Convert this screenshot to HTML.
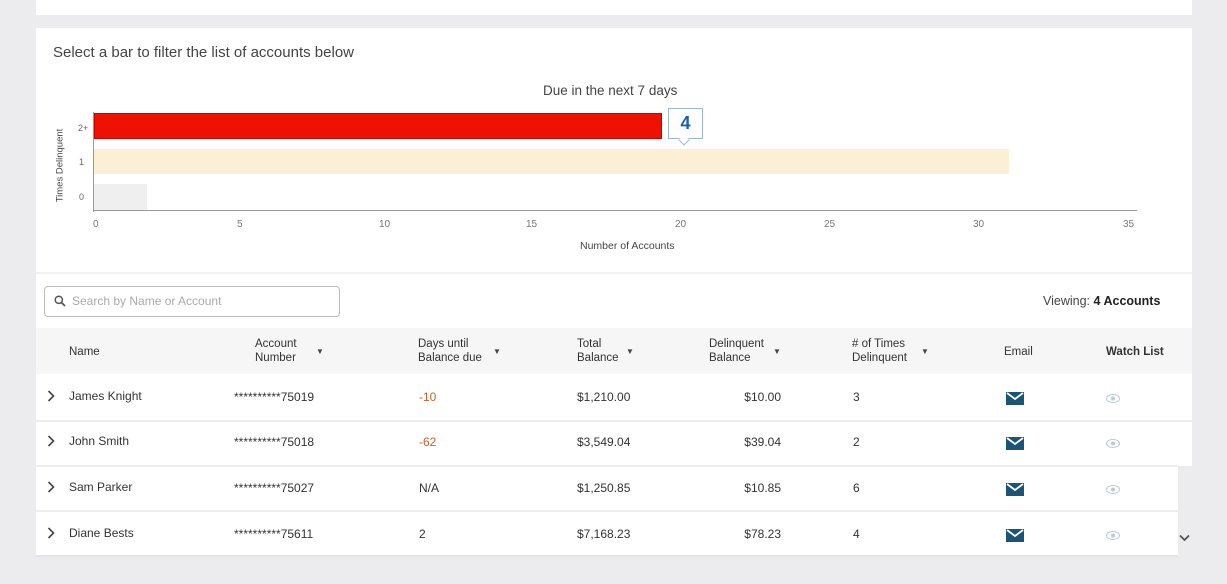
<!DOCTYPE html>
<html><head><meta charset="utf-8"><style>
*{margin:0;padding:0;box-sizing:border-box}
body{width:1227px;height:584px;background:#ececef;font-family:"Liberation Sans",sans-serif;position:relative;overflow:hidden;color:#222}
.a{position:absolute}
.t{font-size:12px;color:#333}
.h{font-size:11.5px;color:#333;line-height:14px}
.arr{font-size:8px;color:#444}
.m{width:18px;height:13px}
</style></head><body>
<div class="a" style="left:36px;top:0;width:1156px;height:15px;background:#fff"></div>
<div class="a" style="left:36px;top:28px;width:1156px;height:438px;background:#fff"></div>
<div class="a" style="left:36px;top:466px;width:1142px;height:90px;background:#fff"></div>
<div class="a" style="left:53px;top:44px;font-size:15px;color:#444">Select a bar to filter the list of accounts below</div>
<div class="a" style="left:543px;top:83px;font-size:13.5px;color:#444">Due in the next 7 days</div>
<div class="a" style="left:93px;top:112px;width:1px;height:100px;background:#999"></div>
<div class="a" style="left:93px;top:210px;width:1044px;height:1px;background:#999"></div>
<div class="a" style="left:94px;top:113px;width:568px;height:26px;background:#ee1100;border:1px solid #c00"></div>
<div class="a" style="left:94px;top:149px;width:915px;height:25px;background:#fbf0d4"></div>
<div class="a" style="left:94px;top:184px;width:53px;height:26px;background:#efefef"></div>
<div class="a" style="left:668px;top:108px;width:35px;height:31px;border:1px solid #9bb8d8;background:#fff;color:#1a5fb4;font-weight:bold;font-size:18px;text-align:center;line-height:29px">4</div>
<div class="a" style="left:680px;top:136px;width:8px;height:8px;background:#fff;border-right:1px solid #9bb8d8;border-bottom:1px solid #9bb8d8;transform:rotate(45deg)"></div>
<div class="a" style="left:78px;top:123px;font-size:9px;color:#666">2+</div>
<div class="a" style="left:79px;top:157px;font-size:9px;color:#666">1</div>
<div class="a" style="left:79px;top:192px;font-size:9px;color:#666">0</div>
<div class="a" style="left:10px;top:160px;width:100px;text-align:center;transform:rotate(-90deg);font-size:9.5px;color:#444">Times Delinquent</div>
<div class="a" style="top:219px;left:0;width:1227px;font-size:10px;color:#777">
<span class="a" style="left:93px">0</span><span class="a" style="left:237px">5</span><span class="a" style="left:379px">10</span><span class="a" style="left:526px">15</span><span class="a" style="left:675px">20</span><span class="a" style="left:824px">25</span><span class="a" style="left:973px">30</span><span class="a" style="left:1123px">35</span></div>
<div class="a" style="left:580px;top:240px;font-size:10.5px;color:#444">Number of Accounts</div>
<div class="a" style="left:36px;top:272px;width:1156px;height:2px;background:#f0f0f0"></div>
<div class="a" style="left:44px;top:286px;width:296px;height:31px;border:1px solid #bbb;border-radius:4px"></div>
<svg class="a" style="left:54px;top:295px" width="12" height="12" viewBox="0 0 12 12"><circle cx="4.8" cy="4.8" r="3.6" fill="none" stroke="#555" stroke-width="1.5"/><path d="M7.5 7.5L11 11" stroke="#555" stroke-width="1.8"/></svg>
<div class="a" style="left:72px;top:294px;font-size:12px;color:#aaa">Search by Name or Account</div>
<div class="a" style="left:1043px;top:294px;font-size:12.5px;color:#444">Viewing: <b style="color:#222">4 Accounts</b></div>
<div class="a" style="left:36px;top:328px;width:1156px;height:46px;background:#f6f6f7"></div>
<div class="a h" style="left:69px;top:345px">Name</div>
<div class="a h" style="left:255px;top:337px">Account<br>Number</div><div class="a arr" style="left:316px;top:347px">▼</div>
<div class="a h" style="left:418px;top:337px">Days until<br>Balance due</div><div class="a arr" style="left:493px;top:347px">▼</div>
<div class="a h" style="left:577px;top:337px">Total<br>Balance</div><div class="a arr" style="left:626px;top:347px">▼</div>
<div class="a h" style="left:709px;top:337px">Delinquent<br>Balance</div><div class="a arr" style="left:773px;top:347px">▼</div>
<div class="a h" style="left:852px;top:337px"># of Times<br>Delinquent</div><div class="a arr" style="left:921px;top:347px">▼</div>
<div class="a h" style="left:1004px;top:345px">Email</div>
<div class="a h" style="left:1106px;top:345px;font-weight:bold;color:#333">Watch List</div>
<div class="a" style="left:36px;top:420px;width:1156px;height:2px;background:#ededed"></div>
<div class="a" style="left:36px;top:465px;width:1142px;height:2px;background:#ededed"></div>
<div class="a" style="left:36px;top:510px;width:1142px;height:2px;background:#ededed"></div>
<div class="a" style="left:36px;top:555px;width:1142px;height:2px;background:#e4e4e4"></div>
<div id="rows"></div>
<svg class="a" style="left:1179px;top:534px" width="11" height="8" viewBox="0 0 11 8"><path d="M1 1.5L5.5 6L10 1.5" stroke="#555" stroke-width="1.8" fill="none"/></svg>
<script>
var d=[["James Knight","75019","-10","$1,210.00","$10.00","3",389],["John Smith","75018","-62","$3,549.04","$39.04","2",434],["Sam Parker","75027","N/A","$1,250.85","$10.85","6",480],["Diane Bests","75611","2","$7,168.23","$78.23","4",526]];
var h="";d.forEach(function(r){var y=r[6];var neg=r[2][0]=="-";
h+='<svg class="a" style="left:47px;top:'+(y+1)+'px" width="8" height="12" viewBox="0 0 8 12"><path d="M1.5 1L6.5 6L1.5 11" stroke="#444" stroke-width="1.6" fill="none"/></svg>';
h+='<div class="a t" style="left:69px;top:'+y+'px">'+r[0]+'</div>';
h+='<div class="a t" style="left:234px;top:'+(y+1)+'px">**********'+r[1]+'</div>';
h+='<div class="a t" style="left:419px;top:'+(y+1)+'px;color:'+(neg?'#c8602a':'#333')+'">'+r[2]+'</div>';
h+='<div class="a t" style="left:577px;top:'+(y+1)+'px">'+r[3]+'</div>';
h+='<div class="a t" style="left:700px;width:81px;text-align:right;top:'+(y+1)+'px">'+r[4]+'</div>';
h+='<div class="a t" style="left:853px;top:'+(y+1)+'px">'+r[5]+'</div>';
h+='<svg class="a m" style="left:1006px;top:'+(y+3)+'px" viewBox="0 0 18 13"><rect width="18" height="13" fill="#1a5578"/><path d="M1 1 L9 7 L17 1" stroke="#fff" stroke-width="1.8" fill="none"/></svg>';
h+='<svg class="a" style="left:1106px;top:'+(y+5)+'px" width="14" height="9" viewBox="0 0 14 9"><ellipse cx="7" cy="4.5" rx="6.5" ry="4" fill="none" stroke="#b9cbd8" stroke-width="1"/><circle cx="7" cy="4.5" r="2" fill="#b9cbd8"/></svg>';
});document.getElementById("rows").innerHTML=h;
</script>
</body></html>
